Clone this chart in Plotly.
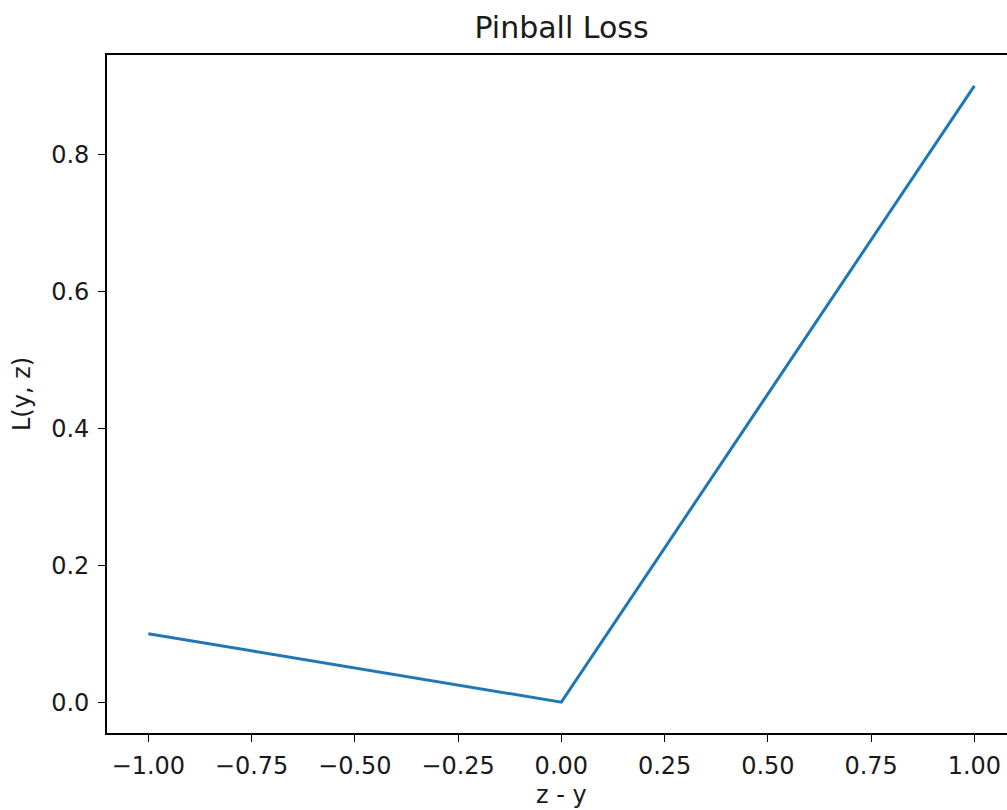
import plotly.graph_objects as go

# Data
x_vals = [-1.0, 0.0, 1.0]
loss_vals = [0.1, 0.0, 0.9]
x_ticks = [-1.0, -0.75, -0.5, -0.25, 0.0, 0.25, 0.5, 0.75, 1.0]
y_ticks = [0.0, 0.2, 0.4, 0.6, 0.8]
title_text = "Pinball Loss"
x_label = "z - y"
y_label = "L(y, z)"

W, H = 1007, 810
L, T, B = 107, 55, 77
font = "DejaVu Sans"
ink = "#000000"
txt = "#1a1a1a"

fig = go.Figure()
fig.add_trace(go.Scatter(x=x_vals, y=loss_vals, mode="lines",
                         line=dict(color="#1f77b4", width=3), showlegend=False))

fig.update_layout(
    width=W, height=H,
    margin=dict(l=L, r=0, t=T, b=B, pad=0),
    paper_bgcolor="white", plot_bgcolor="white",
    font=dict(family=font, size=24, color=txt),
    title=dict(text=title_text, x=561.5 / W, xanchor="center", xref="container",
               y=1 - 27 / H, yanchor="middle", yref="container",
               font=dict(family=font, size=30, color=txt)),
)
fig.update_xaxes(range=[-1.1, 1.079], tickvals=x_ticks, tickformat=".2f",
                 showgrid=False, zeroline=False,
                 showline=True, linecolor=ink, linewidth=1.6, mirror=True,
                 ticks="outside", ticklen=7, tickwidth=1.4, tickcolor=ink,
                 ticklabelstandoff=3)
fig.update_yaxes(range=[-0.045, 0.945], tickvals=y_ticks, tickformat=".1f",
                 showgrid=False, zeroline=False,
                 showline=True, linecolor=ink, linewidth=1.6, mirror=False,
                 ticks="outside", ticklen=7, tickwidth=1.4, tickcolor=ink,
                 ticklabelstandoff=4)

fig.add_annotation(text=x_label, xref="paper", yref="paper",
                   x=(561.5 - L) / (W - L), y=-(795 - (H - B)) / (H - T - B),
                   xanchor="center", yanchor="middle", showarrow=False,
                   font=dict(family=font, size=24, color=txt))
fig.add_annotation(text=y_label, xref="paper", yref="paper",
                   x=-(L - 22) / (W - L), y=0.5, textangle=-90,
                   xanchor="center", yanchor="middle", showarrow=False,
                   font=dict(family=font, size=24, color=txt))

fig.write_html("out.html")
